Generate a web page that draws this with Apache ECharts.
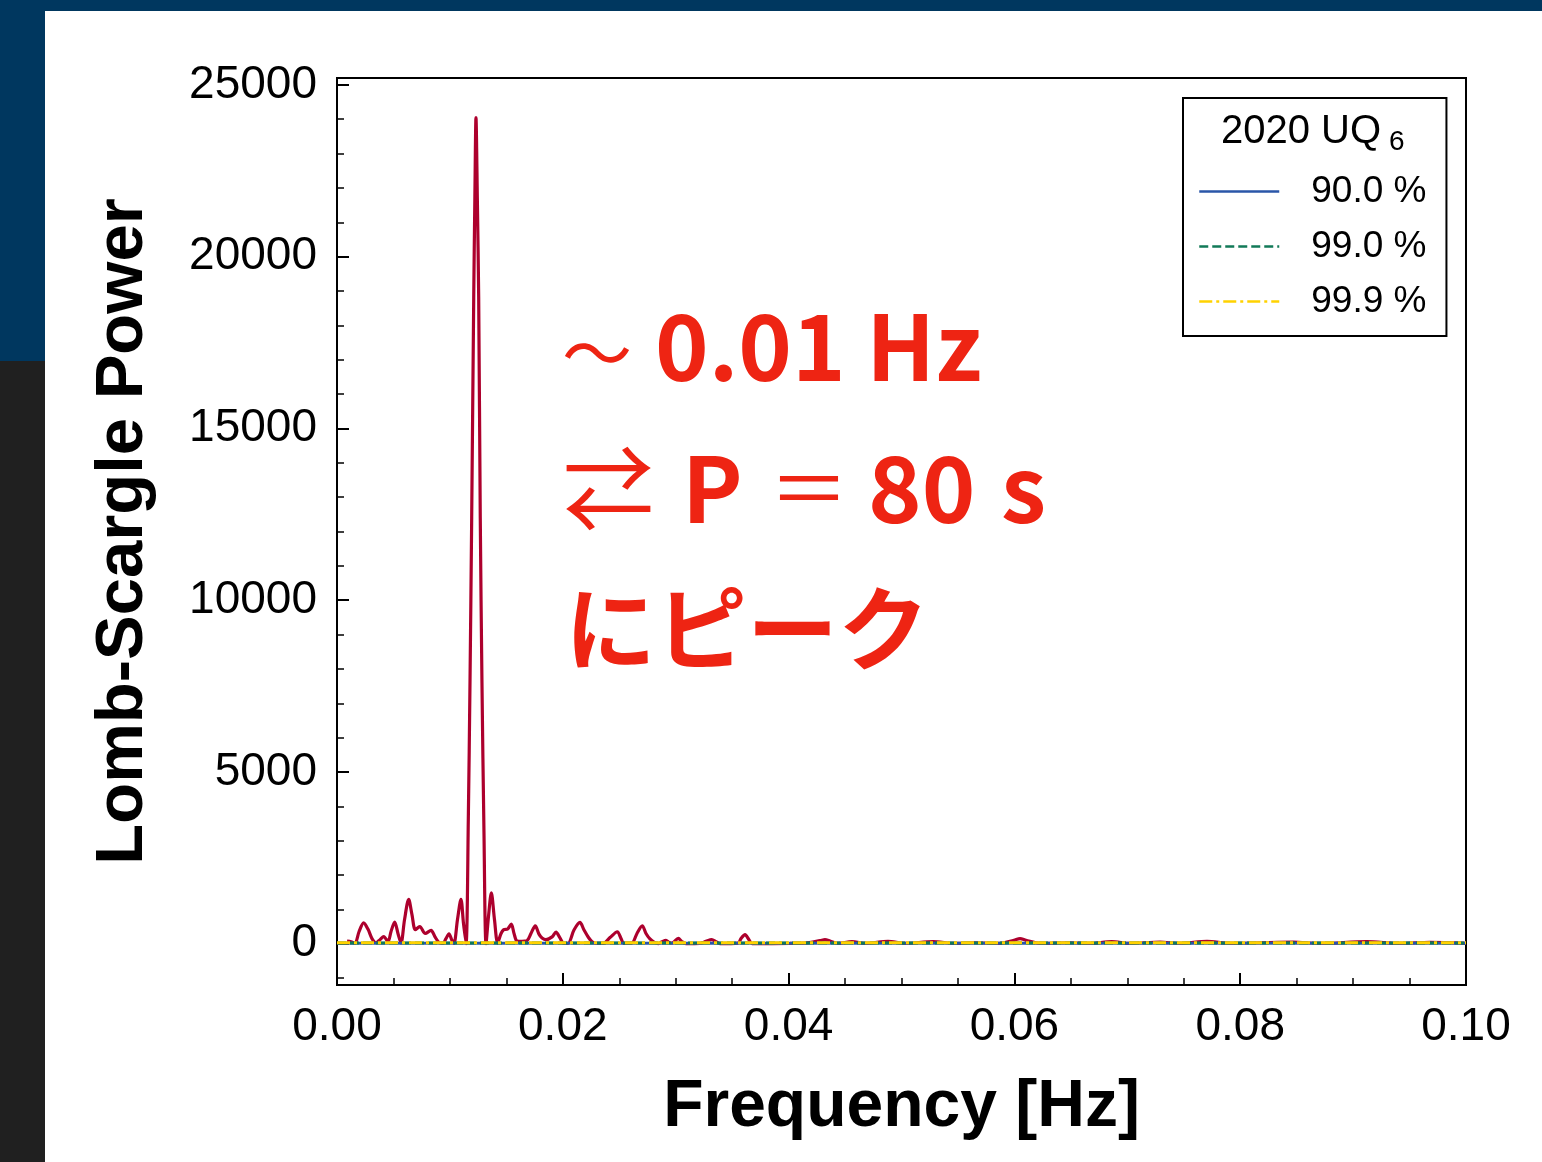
<!DOCTYPE html>
<html>
<head>
<meta charset="utf-8">
<script src="https://cdn.jsdelivr.net/npm/echarts@6/dist/echarts.min.js"></script>
<style>
  html, body { margin: 0; padding: 0; width: 1542px; height: 1162px; overflow: hidden; background: #ffffff; }
  #topband { position: absolute; left: 0; top: 0; width: 1542px; height: 11px; background: #00375f; }
  #leftnavy { position: absolute; left: 0; top: 0; width: 45px; height: 361px; background: #00375f; }
  #leftdark { position: absolute; left: 0; top: 361px; width: 45px; height: 801px; background: #202020; }
  #chart { position: absolute; left: 0; top: 0; width: 1542px; height: 1162px; }
</style>
</head>
<body>
<div id="topband"></div>
<div id="leftnavy"></div>
<div id="leftdark"></div>
<div id="chart"></div>
<script>
// ---- data ----
const freqHz = [
  0.00089, 0.00124, 0.00159, 0.00195, 0.00236, 0.00275, 0.00310, 0.00345, 0.00381, 0.00414,
  0.00452, 0.00478, 0.00511, 0.00540, 0.00567, 0.00598, 0.00635, 0.00664, 0.00694, 0.00733,
  0.00782, 0.00833, 0.00868, 0.00903, 0.00939, 0.00965, 0.00992, 0.01018, 0.01036, 0.01067,
  0.01098, 0.01120, 0.01143, 0.01163, 0.01178, 0.01193, 0.01211, 0.01221, 0.01231, 0.01243,
  0.01255, 0.01269, 0.01284, 0.01302, 0.01320, 0.01342, 0.01367, 0.01395, 0.01423, 0.01453,
  0.01477, 0.01512, 0.01544, 0.01568, 0.01594, 0.01638, 0.01683, 0.01718, 0.01756, 0.01789,
  0.01816, 0.01851, 0.01905, 0.01940, 0.01975, 0.02008, 0.02046, 0.02099, 0.02152, 0.02188,
  0.02226, 0.02259, 0.02294, 0.02359, 0.02418, 0.02483, 0.02516, 0.02542, 0.02610, 0.02657,
  0.02704, 0.02737, 0.02772, 0.02808, 0.02846, 0.02879, 0.02914, 0.02941, 0.02967, 0.03023,
  0.03056, 0.03091, 0.03215, 0.03268, 0.03319, 0.03357, 0.03392, 0.03552, 0.03578, 0.03614,
  0.03649, 0.03676, 0.04012, 0.04145, 0.04278, 0.04322, 0.04367, 0.04437, 0.04561, 0.04686,
  0.04880, 0.05031, 0.05279, 0.05474, 0.05651, 0.05872, 0.05996, 0.06050, 0.06103, 0.06227,
  0.06493, 0.06670, 0.06862, 0.07024, 0.07290, 0.07467, 0.07706, 0.07910, 0.08175, 0.08468,
  0.08707, 0.09120, 0.09415, 0.09681, 0.10000
];
const lsPower = [
  80, 60, 10, 350, 610, 420, 150, 30, 120, 210,
  60, 350, 630, 300, 20, 700, 1290, 850, 410, 500,
  300, 390, 200, 40, 10, 150, 290, 100, 10, 700,
  1290, 600, 0, 3600, 7600, 12400, 18800, 21700, 24050, 21700,
  18800, 12400, 7600, 3200, 0, 800, 1480, 700, 20, 300,
  410, 430, 570, 300, 80, 70, 90, 300, 520, 280,
  170, 120, 200, 340, 170, 10, 10, 400, 620, 400,
  190, 60, 10, 10, 180, 350, 150, 10, 15, 300,
  525, 300, 140, 50, 5, 60, 100, 40, 20, 155,
  60, 5, 10, 70, 120, 60, 5, 20, 150, 265,
  120, 5, 10, 20, 90, 120, 80, 10, 60, 10,
  70, 10, 65, 10, 30, 10, 100, 150, 100, 10,
  30, 10, 60, 10, 50, 10, 70, 10, 30, 50,
  10, 60, 10, 40, 10
];
const levelNames = ['90.0 %', '99.0 %', '99.9 %'];
const levelValues = [18, 24, 30];
const xTickLabels = ['0.00', '0.02', '0.04', '0.06', '0.08', '0.10'];
const yMajorTicks = [0, 5000, 10000, 15000, 20000, 25000];
const yMinorTicks = [-1000, 1000, 2000, 3000, 4000, 6000, 7000, 8000, 9000, 11000, 12000, 13000, 14000,
  16000, 17000, 18000, 19000, 21000, 22000, 23000, 24000];
const legendTitle = '2020 UQ';
const legendTitleSub = '6';
const annotationLine1 = ['〜', '0.01 Hz'];
const annotationLine2 = ['⇄', 'P', '＝', '80', 's'];
const annotationLine3 = 'にピーク';

// ---- chart ----
const xMin = 0, xMax = 0.1, yMin = -1200, yMax = 25200;
const FONT = '"Liberation Sans", Arial, sans-serif';
const JP = '"Noto Sans CJK JP", "Noto Sans", sans-serif';
const RED = '#ee2413';
const levelColors = ['#2a56a8', '#127a58', '#ffd200'];
const levelTypes = ['solid', [9, 4], [13, 4, 3, 4]];

const chart = echarts.init(document.getElementById('chart'), null, { renderer: 'canvas' });

const series = [{
  type: 'line',
  name: 'LS',
  data: freqHz.map((f, i) => [f, lsPower[i]]),
  symbol: 'none',
  smooth: 0.3,
  lineStyle: { color: '#ad002d', width: 3.2 },
  itemStyle: { color: '#ad002d' },
  z: 2,
  silent: true
}];
levelNames.forEach((n, i) => {
  series.push({
    type: 'line',
    name: n,
    data: [[xMin, levelValues[i]], [xMax, levelValues[i]]],
    symbol: 'none',
    lineStyle: { color: levelColors[i], width: 3, type: levelTypes[i] },
    itemStyle: { color: levelColors[i] },
    z: 3 + i,
    silent: true
  });
});

function redText(x, y, text, size, weight) {
  return { type: 'text', x: x, y: y, z: 100,
    style: { text: text, fontSize: size, fontWeight: weight, fontFamily: JP, fill: RED, verticalAlign: 'middle' } };
}

chart.setOption({
  animation: false,
  grid: {
    left: 337, top: 78, width: 1129, height: 907,
    show: true, borderColor: '#000', borderWidth: 2, backgroundColor: 'transparent',
    containLabel: false, outerBoundsMode: 'none'
  },
  xAxis: {
    type: 'value', min: xMin, max: xMax, interval: 0.02,
    axisLine: { show: true, onZero: false, lineStyle: { color: '#000', width: 2 } },
    axisTick: { show: true, inside: true, length: 12, lineStyle: { color: '#000', width: 2 } },
    minorTick: { show: true, splitNumber: 4, length: 7, lineStyle: { color: '#000', width: 1.5 } },
    splitLine: { show: false }, minorSplitLine: { show: false },
    axisLabel: {
      fontSize: 46, color: '#000', fontFamily: FONT, margin: 19,
      formatter: v => xTickLabels[Math.round(v / 0.02)] || v.toFixed(2)
    },
    name: 'Frequency [Hz]', nameLocation: 'middle', nameGap: 90,
    nameTextStyle: { fontSize: 66, fontWeight: 'bold', color: '#000', fontFamily: FONT }
  },
  yAxis: [{
    type: 'value', min: yMin, max: yMax, position: 'left',
    axisLine: { show: true, onZero: false, lineStyle: { color: '#000', width: 2 } },
    axisTick: { show: true, inside: true, length: 12, customValues: yMajorTicks, lineStyle: { color: '#000', width: 2 } },
    axisLabel: {
      show: true, customValues: yMajorTicks, fontSize: 46, color: '#000', fontFamily: FONT, margin: 20,
      padding: [5, 0, 0, 0], formatter: v => String(v)
    },
    splitLine: { show: false },
    name: 'Lomb-Scargle Power', nameLocation: 'middle', nameRotate: 90, nameGap: 180,
    nameTextStyle: { fontSize: 67, fontWeight: 'bold', color: '#000', fontFamily: FONT }
  }, {
    type: 'value', min: yMin, max: yMax, position: 'left', offset: 0,
    axisLine: { show: false },
    axisTick: { show: true, inside: true, length: 7, customValues: yMinorTicks, lineStyle: { color: '#000', width: 1.5 } },
    axisLabel: { show: false },
    splitLine: { show: false }
  }],
  legend: {
    data: levelNames, orient: 'vertical', left: 1183, top: 98,
    itemWidth: 80, itemHeight: 37, itemGap: 18,
    padding: [75, 20, 16, 15],
    borderColor: '#000', borderWidth: 2, borderRadius: 0, backgroundColor: '#fff',
    selectedMode: false,
    itemStyle: { opacity: 0 },
    lineStyle: { width: 2.5 },
    textStyle: { fontSize: 37, color: '#000', fontFamily: FONT, padding: [0, 0, 0, 27] }
  },
  graphic: [
    { type: 'text', left: 1221, top: 111.5, z: 100,
      style: { text: legendTitle, fontSize: 40, fontFamily: FONT, fill: '#000' } },
    { type: 'text', left: 1389, top: 128.5, z: 100,
      style: { text: legendTitleSub, fontSize: 28, fontFamily: FONT, fill: '#000' } },
    redText(562, 353, annotationLine1[0], 70, 'normal'),
    redText(655, 346, annotationLine1[1], 91, 'bold'),
    redText(563, 488, annotationLine2[0], 91, 'normal'),
    redText(682, 488, annotationLine2[1], 91, 'bold'),
    redText(769, 488, annotationLine2[2], 80, 'normal'),
    redText(868, 488, annotationLine2[3], 91, 'bold'),
    redText(1001, 488, annotationLine2[4], 91, 'bold'),
    redText(565, 628, annotationLine3, 91, 'bold')
  ],
  series: series
});
</script>
</body>
</html>
